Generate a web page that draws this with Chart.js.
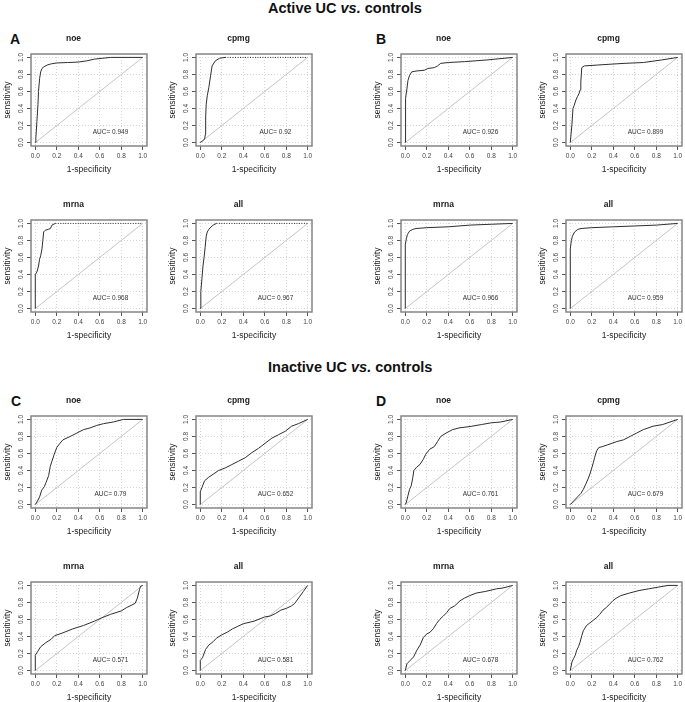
<!DOCTYPE html>
<html lang="en">
<head>
<meta charset="UTF-8">
<title>ROC curves - UC vs. controls</title>
<script src="https://cdn.jsdelivr.net/npm/chart.js"></script>
<style>
  body { margin: 0; background: #fff; font-family: "Liberation Sans", Arial, sans-serif; }
  #page { position: relative; width: 685px; height: 702px; overflow: hidden; background: #fff; }
  .plot { position: absolute; }
  .head { position: absolute; font-weight: bold; font-size: 14.5px; line-height: 16px; color: #111; white-space: nowrap; }
  .letter { position: absolute; font-weight: bold; font-size: 14px; line-height: 16px; color: #111; }
</style>
</head>
<body>
<div id="page">
  <div class="head" style="left:268px; top:0px">Active UC <i>vs.</i> controls</div>
  <div class="head" style="left:268px; top:359px">Inactive UC <i>vs.</i> controls</div>
  <div class="letter" style="left:10px; top:31px">A</div>
  <div class="letter" style="left:376px; top:31px">B</div>
  <div class="letter" style="left:11px; top:393px">C</div>
  <div class="letter" style="left:376px; top:393px">D</div>
</div>

<script>
// axis ticks and panel names
const tickValues = [0, 0.2, 0.4, 0.6, 0.8, 1.0];
const markers = ['noe', 'cpmg', 'mrna', 'all'];

// A - active UC vs controls
const aNoeFpr = [0, 0.005, 0.015, 0.025, 0.03, 0.04, 0.05, 0.062, 0.08, 0.11, 0.15, 0.2, 0.3, 0.4, 0.48, 0.55, 0.7, 1];
const aNoeTpr = [0, 0.05, 0.25, 0.45, 0.6, 0.75, 0.83, 0.87, 0.89, 0.91, 0.925, 0.935, 0.94, 0.945, 0.96, 0.98, 1, 1];
const aCpmgFpr = [0, 0.02, 0.04, 0.048, 0.05, 0.055, 0.065, 0.08, 0.095, 0.11, 0.14, 0.18, 0.23, 1];
const aCpmgTpr = [0, 0.02, 0.04, 0.1, 0.3, 0.45, 0.55, 0.65, 0.78, 0.9, 0.96, 0.99, 1, 1];
const aMrnaFpr = [0, 0, 0.015, 0.03, 0.04, 0.05, 0.062, 0.07, 0.078, 0.093, 0.12, 0.14, 0.155, 0.186, 1];
const aMrnaTpr = [0, 0.4, 0.43, 0.5, 0.58, 0.62, 0.7, 0.8, 0.9, 0.92, 0.93, 0.94, 0.98, 1, 1];
const aAllFpr = [0, 0.005, 0.015, 0.025, 0.035, 0.045, 0.055, 0.065, 0.08, 0.1, 0.12, 0.15, 1];
const aAllTpr = [0, 0.2, 0.35, 0.5, 0.6, 0.72, 0.85, 0.9, 0.93, 0.96, 0.98, 1, 1];
const aucA = ['0.949', '0.92', '0.968', '0.967'];

// B - active UC vs controls
const bNoeFpr = [0, 0, 0.005, 0.015, 0.025, 0.04, 0.06, 0.1, 0.18, 0.21, 0.27, 0.3, 0.33, 0.4, 0.55, 0.76, 1];
const bNoeTpr = [0, 0.35, 0.52, 0.63, 0.73, 0.79, 0.83, 0.84, 0.85, 0.87, 0.88, 0.9, 0.93, 0.94, 0.95, 0.97, 1];
const bCpmgFpr = [0, 0.015, 0.025, 0.037, 0.052, 0.067, 0.083, 0.092, 0.098, 0.107, 0.13, 0.25, 0.37, 0.5, 0.68, 0.85, 1];
const bCpmgTpr = [0, 0.21, 0.4, 0.44, 0.5, 0.54, 0.58, 0.62, 0.71, 0.88, 0.9, 0.91, 0.92, 0.93, 0.94, 0.97, 1];
const bMrnaFpr = [0, 0, 0.01, 0.02, 0.04, 0.07, 0.1, 0.2, 0.4, 0.6, 0.8, 1];
const bMrnaTpr = [0, 0.75, 0.82, 0.87, 0.91, 0.93, 0.94, 0.95, 0.96, 0.98, 0.99, 1];
const bAllFpr = [0, 0, 0.01, 0.02, 0.04, 0.07, 0.1, 0.2, 0.4, 0.6, 0.8, 1];
const bAllTpr = [0, 0.7, 0.8, 0.85, 0.9, 0.93, 0.94, 0.95, 0.96, 0.97, 0.98, 1];
const aucB = ['0.926', '0.899', '0.966', '0.959'];

// C - inactive UC vs controls
const cNoeFpr = [0, 0.015, 0.04, 0.06, 0.084, 0.1, 0.124, 0.14, 0.155, 0.176, 0.2, 0.23, 0.257, 0.325, 0.387, 0.449, 0.51, 0.573, 0.635, 0.728, 0.82, 1];
const cNoeTpr = [0, 0.03, 0.09, 0.17, 0.21, 0.26, 0.34, 0.45, 0.51, 0.59, 0.67, 0.72, 0.76, 0.8, 0.84, 0.88, 0.9, 0.93, 0.95, 0.97, 1, 1];
const cCpmgFpr = [0, 0, 0.015, 0.04, 0.077, 0.124, 0.17, 0.232, 0.294, 0.356, 0.418, 0.48, 0.542, 0.604, 0.666, 0.728, 0.79, 0.85, 0.913, 1];
const cCpmgTpr = [0, 0.15, 0.2, 0.28, 0.32, 0.36, 0.4, 0.43, 0.47, 0.51, 0.55, 0.61, 0.66, 0.72, 0.78, 0.82, 0.86, 0.92, 0.95, 1];
const cMrnaFpr = [0, 0, 0.02, 0.05, 0.1, 0.15, 0.18, 0.25, 0.35, 0.45, 0.55, 0.62, 0.7, 0.8, 0.85, 0.9, 0.93, 0.95, 0.97, 0.98, 1];
const cMrnaTpr = [0, 0.18, 0.22, 0.28, 0.33, 0.37, 0.41, 0.44, 0.49, 0.53, 0.58, 0.62, 0.66, 0.7, 0.74, 0.77, 0.79, 0.85, 0.95, 0.99, 1];
const cAllFpr = [0, 0, 0.02, 0.05, 0.08, 0.12, 0.15, 0.2, 0.25, 0.3, 0.35, 0.4, 0.5, 0.6, 0.65, 0.7, 0.75, 0.8, 0.85, 0.88, 0.92, 0.96, 1];
const cAllTpr = [0, 0.12, 0.15, 0.25, 0.3, 0.34, 0.38, 0.42, 0.45, 0.49, 0.52, 0.55, 0.58, 0.63, 0.64, 0.67, 0.71, 0.73, 0.76, 0.79, 0.86, 0.93, 1];
const aucC = ['0.79', '0.652', '0.571', '0.581'];

// D - inactive UC vs controls
const dNoeFpr = [0, 0.01, 0.024, 0.04, 0.055, 0.07, 0.08, 0.106, 0.136, 0.167, 0.19, 0.227, 0.27, 0.3, 0.33, 0.38, 0.44, 0.5, 0.62, 0.71, 0.8, 0.89, 1];
const dNoeTpr = [0, 0.03, 0.1, 0.18, 0.22, 0.32, 0.4, 0.44, 0.47, 0.53, 0.59, 0.65, 0.68, 0.74, 0.8, 0.84, 0.88, 0.9, 0.92, 0.94, 0.96, 0.97, 1];
const dCpmgFpr = [0, 0.037, 0.067, 0.098, 0.122, 0.144, 0.165, 0.183, 0.2, 0.214, 0.226, 0.245, 0.266, 0.297, 0.343, 0.388, 0.434, 0.495, 0.557, 0.618, 0.68, 0.77, 0.86, 1];
const dCpmgTpr = [0, 0.05, 0.09, 0.13, 0.18, 0.24, 0.3, 0.36, 0.43, 0.49, 0.55, 0.63, 0.67, 0.68, 0.7, 0.72, 0.74, 0.76, 0.8, 0.84, 0.88, 0.92, 0.94, 1];
const dMrnaFpr = [0, 0.015, 0.046, 0.077, 0.108, 0.138, 0.169, 0.2, 0.23, 0.26, 0.29, 0.32, 0.354, 0.385, 0.415, 0.46, 0.51, 0.55, 0.6, 0.66, 0.75, 0.85, 0.91, 1];
const dMrnaTpr = [0, 0.08, 0.12, 0.16, 0.24, 0.3, 0.39, 0.43, 0.45, 0.49, 0.55, 0.6, 0.64, 0.68, 0.73, 0.76, 0.82, 0.85, 0.88, 0.91, 0.93, 0.96, 0.97, 1];
const dAllFpr = [0, 0.015, 0.03, 0.046, 0.06, 0.076, 0.09, 0.107, 0.122, 0.152, 0.183, 0.213, 0.244, 0.274, 0.305, 0.335, 0.366, 0.396, 0.427, 0.47, 0.55, 0.64, 0.73, 0.82, 0.91, 1];
const dAllTpr = [0, 0.1, 0.14, 0.18, 0.24, 0.28, 0.33, 0.41, 0.47, 0.53, 0.56, 0.59, 0.62, 0.66, 0.71, 0.74, 0.78, 0.82, 0.85, 0.88, 0.91, 0.94, 0.96, 0.98, 1, 1];
const aucD = ['0.761', '0.679', '0.678', '0.762'];

// layout of the grid (plot box corners in page px)
const colLeft = [31, 196, 401, 566];
const rowTop = [54, 220, 416, 582];
const FONT = '"Liberation Sans", Arial, sans-serif';

const groups = [
  { col: 0, row: 0, fpr: [aNoeFpr, aCpmgFpr, aMrnaFpr, aAllFpr], tpr: [aNoeTpr, aCpmgTpr, aMrnaTpr, aAllTpr], auc: aucA, dashTop: [false, true, true, true] },
  { col: 2, row: 0, fpr: [bNoeFpr, bCpmgFpr, bMrnaFpr, bAllFpr], tpr: [bNoeTpr, bCpmgTpr, bMrnaTpr, bAllTpr], auc: aucB, dashTop: [] },
  { col: 0, row: 2, fpr: [cNoeFpr, cCpmgFpr, cMrnaFpr, cAllFpr], tpr: [cNoeTpr, cCpmgTpr, cMrnaTpr, cAllTpr], auc: aucC, dashTop: [] },
  { col: 2, row: 2, fpr: [dNoeFpr, dCpmgFpr, dMrnaFpr, dAllFpr], tpr: [dNoeTpr, dCpmgTpr, dMrnaTpr, dAllTpr], auc: aucD, dashTop: [] }
];

// box, rotated y labels and the AUC note
const rocExtras = {
  id: 'rocExtras',
  afterDraw(chart, args, opts) {
    const { ctx, chartArea: a, scales: { x, y } } = chart;
    ctx.save();
    ctx.strokeStyle = '#858585';
    ctx.lineWidth = 1.5;
    ctx.strokeRect(a.left, a.top, a.right - a.left, a.bottom - a.top);

    ctx.fillStyle = '#444';
    ctx.font = '6.5px ' + FONT;
    ctx.textAlign = 'center';
    ctx.textBaseline = 'middle';
    tickValues.forEach(v => {
      ctx.save();
      ctx.translate(a.left - 10, y.getPixelForValue(v));
      ctx.rotate(-Math.PI / 2);
      ctx.fillText(v.toFixed(1), 0, 0);
      ctx.restore();
    });

    ctx.fillStyle = '#333';
    ctx.fillText('AUC= ' + opts.auc, x.getPixelForValue(0.7), y.getPixelForValue(0.12));
    ctx.restore();
  }
};

function makeChart(left, top, name, fpr, tpr, auc, dashTop) {
  const canvas = document.createElement('canvas');
  canvas.className = 'plot';
  canvas.width = 160;
  canvas.height = 152;
  canvas.style.left = (left - 31) + 'px';
  canvas.style.top = (top - 31) + 'px';
  document.getElementById('page').appendChild(canvas);

  const axisCommon = {
    type: 'linear',
    min: -0.04,
    max: 1.04,
    afterBuildTicks: s => { s.ticks = tickValues.map(v => ({ value: v })); },
    grid: { color: '#d6d6d6', lineWidth: 1, tickColor: '#555', tickLength: 4, tickWidth: 1 },
    border: { display: false, dash: [1, 2] }
  };

  return new Chart(canvas, {
    type: 'scatter',
    data: {
      datasets: [{
        data: fpr.map((v, i) => ({ x: v, y: tpr[i] })),
        showLine: true,
        borderColor: '#2e2e2e',
        borderWidth: 1,
        pointRadius: 0,
        segment: {
          borderDash: c => (dashTop && c.p0.parsed.y >= 1 && c.p1.parsed.y >= 1) ? [1, 1.5] : undefined
        }
      }, {
        data: [{ x: 0, y: 0 }, { x: 1, y: 1 }],
        showLine: true,
        borderColor: '#c4c4c4',
        borderWidth: 1,
        pointRadius: 0
      }]
    },
    options: {
      responsive: false,
      animation: false,
      devicePixelRatio: 1,
      layout: { padding: { left: 0, right: 13, top: 0, bottom: 0 } },
      plugins: {
        legend: { display: false },
        tooltip: { enabled: false },
        title: {
          display: true,
          text: name,
          color: '#222',
          font: { family: FONT, size: 8.5, weight: 'bold', lineHeight: 1.2 },
          padding: { top: 11, bottom: 9.8 }
        },
        rocExtras: { auc: auc }
      },
      scales: {
        x: Object.assign({}, axisCommon, {
          afterFit: s => { s.height = 29; },
          ticks: {
            font: { family: FONT, size: 6.5 },
            color: '#444',
            padding: 2,
            maxRotation: 0,
            autoSkip: false,
            callback: v => v.toFixed(1)
          },
          title: {
            display: true,
            text: '1-specificity',
            color: '#222',
            font: { family: FONT, size: 8.5 },
            padding: { top: 0, bottom: 0 }
          }
        }),
        y: Object.assign({}, axisCommon, {
          afterFit: s => { s.width = 31; },
          ticks: { display: false },
          title: {
            display: true,
            text: 'sensitivity',
            color: '#222',
            font: { family: FONT, size: 8.5 },
            padding: { top: 3, bottom: 0 }
          }
        })
      }
    },
    plugins: [rocExtras]
  });
}

groups.forEach(g => {
  markers.forEach((name, k) => {
    const c = g.col + (k % 2);
    const r = g.row + Math.floor(k / 2);
    makeChart(colLeft[c], rowTop[r], name, g.fpr[k], g.tpr[k], g.auc[k], !!g.dashTop[k]);
  });
});
</script>
</body>
</html>
